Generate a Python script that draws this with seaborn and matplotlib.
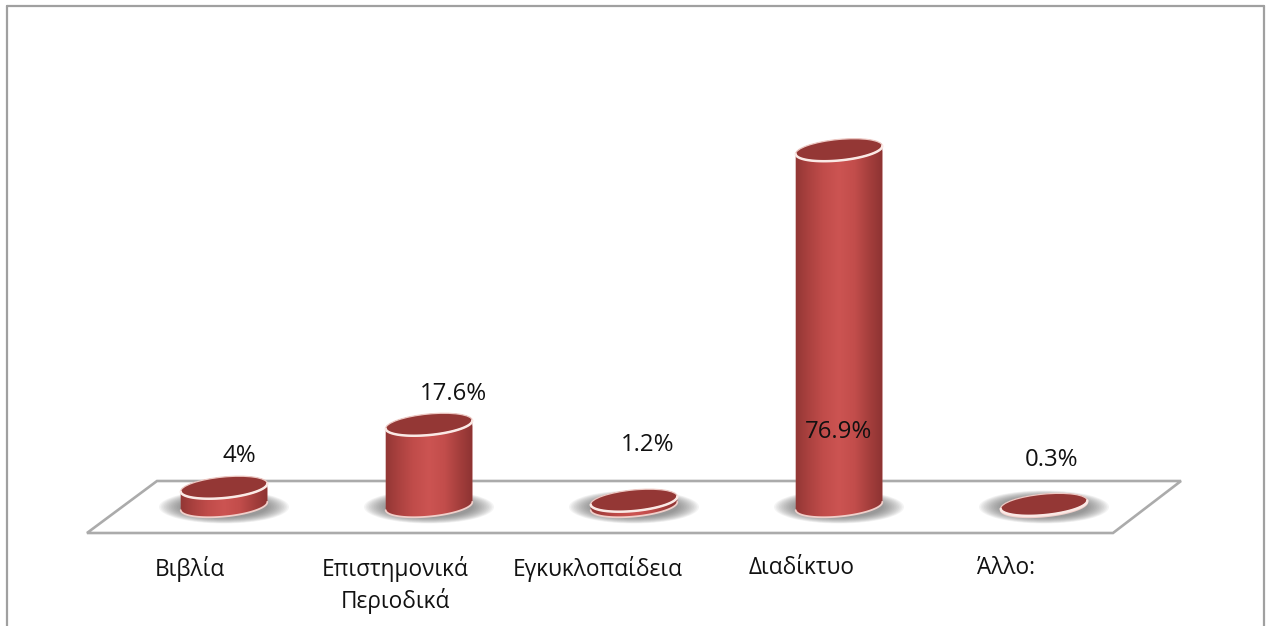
import numpy as np
import pandas as pd
import matplotlib
matplotlib.use('Agg')
import matplotlib.pyplot as plt
import seaborn as sns
from matplotlib.colors import LinearSegmentedColormap
from matplotlib.lines import Line2D
from matplotlib.patches import Ellipse, Polygon
from matplotlib.transforms import IdentityTransform

# data
categories = ['Βιβλία', 'Επιστημονικά\nΠεριοδικά', 'Εγκυκλοπαίδεια', 'Διαδίκτυο', 'Άλλο:']
values = [4, 17.6, 1.2, 76.9, 0.3]
value_labels = ['4%', '17.6%', '1.2%', '76.9%', '0.3%']

# manual label offsets, in pixels from the bar
cat_dx = [-34, -34, -36, -37, -38]
val_offsets = [(15, 31), (24, 31), (14, 55), (0, -282), (8, 45)]

W, H = 1266, 626
ELL_W, ELL_H, TILT = 87, 21, 5.5

sns.set_theme(style='white')
plt.rcParams['font.family'] = ['Open Sans', 'DejaVu Sans']

fig = plt.figure(figsize=(W / 100, H / 100), dpi=100)
ax = fig.add_axes([0, 0, 1, 1])

df = pd.DataFrame({'cat': categories, 'val': values})
sns.barplot(data=df, x='cat', y='val', color='#b04543', saturation=1,
            width=ELL_W / 205, ax=ax, zorder=3)
bars = list(ax.patches)

# 205 px per category, 4.63 px per percent, baseline at y=506 px from top
ax.set_xlim(-224 / 205, (W - 224) / 205)
ax.set_ylim(-(H - 506) / 4.63, 506 / 4.63)
ax.set_autoscale_on(False)
ax.set_axis_off()


def px(x, y):
    # pixel coords measured from the top left corner
    return (x, H - y)


# platform and outer frame
plate = Polygon([px(87, 533), px(1113, 533), px(1181, 481), px(157, 481)], closed=True,
                transform=IdentityTransform(), facecolor='white', edgecolor='#ababab',
                linewidth=1.9, zorder=1)
ax.add_patch(plate)
for xs, ys in [((6.5, 6.5), (5.5, 626)), ((6.5, 1264), (5.5, 5.5)), ((1264, 1264), (5.5, 626))]:
    fig.add_artist(Line2D([x / W for x in xs], [1 - y / H for y in ys], color='#a0a0a0', linewidth=1.6))

shade = LinearSegmentedColormap.from_list(
    'cyl', ['#8a3331', '#a8403e', '#c04c4a', '#cc5452', '#c24d4b', '#a23d3b', '#85302f'])
gradient = np.linspace(0, 1, 256).reshape(1, -1)


def ellipse_pts(cx, cy, t):
    a, b = ELL_W / 2, ELL_H / 2
    ang = np.radians(TILT)
    x = a * np.cos(t)
    y = b * np.sin(t)
    return np.column_stack([cx + x * np.cos(ang) - y * np.sin(ang),
                            cy + x * np.sin(ang) + y * np.cos(ang)])


for i, p in enumerate(bars):
    left, w, v = p.get_x(), p.get_width(), p.get_height()
    cx, base_y = ax.transData.transform((left + w / 2, 0))
    _, top_y = ax.transData.transform((left + w / 2, v))

    # soft floor shadow
    for k in range(14):
        f = 1 - k / 14
        ax.add_patch(Ellipse((cx, base_y - 1), 84 + 46 * f, 20 + 13 * f, angle=0,
                             transform=IdentityTransform(), facecolor='#666666',
                             edgecolor='none', alpha=0.07, zorder=2))

    lower = ellipse_pts(cx, base_y, np.linspace(np.pi, 2 * np.pi, 60))
    upper = ellipse_pts(cx, top_y, np.linspace(0, np.pi, 60))
    body = Polygon(np.vstack([lower, upper]), closed=True, transform=IdentityTransform(),
                   facecolor='none', edgecolor='none', zorder=3)
    ax.add_patch(body)
    p.set_clip_path(body)

    img = ax.imshow(gradient, cmap=shade, aspect='auto', zorder=4,
                    extent=(left - 0.02, left + w + 0.02, -4, v + 4))
    img.set_clip_path(body)

    # pale rim round the base
    ax.add_line(Line2D(lower[:, 0], lower[:, 1], transform=IdentityTransform(),
                       color='#f0cfca', linewidth=1.3, zorder=5))

    # top face, the near edge catches the light
    ax.add_patch(Ellipse((cx, top_y), ELL_W, ELL_H, angle=TILT, transform=IdentityTransform(),
                         facecolor='#943735', edgecolor='#edc9c4', linewidth=0.9, zorder=6))
    near = ellipse_pts(cx, top_y, np.linspace(np.pi, 2 * np.pi, 60))
    ax.add_line(Line2D(near[:, 0], near[:, 1], transform=IdentityTransform(),
                       color='#fae9e5', linewidth=1.8, zorder=7))

    ax.annotate(categories[i], (i, 0), xytext=(cat_dx[i], -50), textcoords='offset pixels',
                ha='center', va='top', fontsize=16.3, color='#111111', linespacing=1.3, zorder=8)
    ax.annotate(value_labels[i], (i, v), xytext=val_offsets[i], textcoords='offset pixels',
                ha='center', va='center', fontsize=17.3, color='#111111', zorder=8)

fig.savefig('out.png', dpi=100, facecolor='white')
